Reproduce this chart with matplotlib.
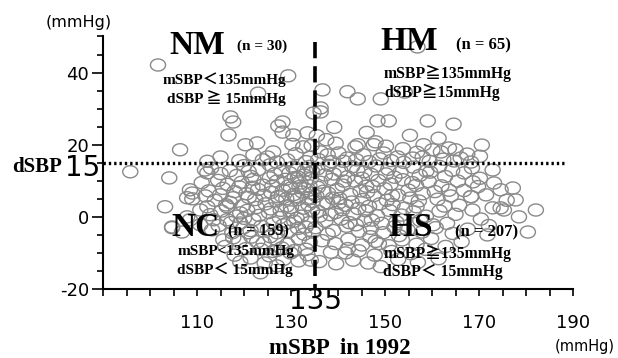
import numpy as np
import matplotlib
matplotlib.use('Agg')
import matplotlib.pyplot as plt
from matplotlib.path import Path

# (mSBP, dSBP), per group
nm_pts = [(101.7,42.1),(129.4,39.1),(123.0,34.3),(117.1,27.7),(117.7,26.3),(128.2,26.3),
          (127.3,25.2),(116.7,22.7),(130.5,22.7),(120.3,20.0),(122.8,20.5),(106.4,18.6),
          (126.2,18.0),(134.8,28.8),(132.6,19.4),(125.0,16.6),(129.2,15.8),(134.1,16.6),
          (122.0,17.2),(115.0,16.6),(128.2,23.5),(133.5,23.3),(131.0,17.5),(119.0,15.6),
          (112.2,15.4),(127.0,15.2),(133.2,15.3),(124.0,15.8),(130.3,20.1),(134.4,19.8)]

hm_pts = [(136.7,35.2),(142.0,34.7),(144.2,32.7),(149.1,32.7),(154.2,34.6),(156.9,47.1),
          (136.3,30.2),(136.3,29.1),(148.4,26.6),(150.8,26.6),(159.1,26.6),(164.6,25.7),
          (144.2,20.0),(143.7,19.4),(148.0,20.8),(147.6,20.0),(158.2,20.0),(160.1,18.6),
          (163.6,19.1),(165.0,18.6),(136.3,18.0),(137.8,17.2),(140.1,17.7),(142.0,16.3),
          (145.4,17.2),(149.7,17.7),(152.7,16.6),(155.9,16.3),(158.0,16.6),(166.1,16.3),
          (168.3,15.2),(161.9,18.0),(135.5,22.5),(137.5,21.4),(139.5,20.4),(141.2,15.4),
          (143.9,15.8),(146.6,15.3),(148.9,16.1),(151.3,15.6),(154.0,15.1),(156.8,17.9),
          (159.5,15.4),(162.4,16.0),(164.7,15.5),(167.5,17.4),(170.2,16.8),(135.8,15.9),
          (138.6,15.3),(139.2,24.8),(150.2,19.6),(153.8,18.9),(146.1,23.4),(155.3,22.6),
          (161.4,21.8),(170.6,19.9)]

nc_pts = [(95.8,12.5),(104.1,10.8),(108.5,7.5),(109.0,6.6),(109.0,5.0),(103.2,2.8),
          (107.9,0.0),(110.7,1.9),(112.2,2.8),(104.7,-2.8),(106.8,-4.2),(112.2,12.2),
          (111.7,13.0),(107.9,5.3),(114.9,6.1),(117.7,5.3),(116.4,2.8),(119.2,1.1),
          (108.5,-0.8),(104.7,-3.0),(110.7,-2.2),(113.5,-0.8),(116.4,-0.8),(119.2,-1.7),
          (119.2,-12.5),(123.5,-15.5),(117.7,-5.8),(120.9,-4.4),(122.8,-6.9),(125.6,-5.5),
          (133.5,-10.5),(129.9,-10.0),(127.0,-9.3),
          (113.0,13.5),(117.0,12.8),(120.0,14.2),(123.0,13.1),(125.5,14.4),(128.0,12.6),
          (130.5,13.8),(133.0,12.9),(118.5,11.5),(121.5,11.2),(126.5,11.9),(131.5,11.0),
          (134.0,14.0),(114.5,10.1),(116.5,9.0),(119.5,9.6),(122.0,10.4),(124.0,8.8),
          (127.0,9.9),(129.5,8.6),(132.0,9.4),(134.2,10.6),(111.0,9.5),(125.5,10.8),
          (130.8,10.9),(112.5,7.2),(115.5,7.9),(118.0,7.0),(120.5,6.4),(123.0,7.6),
          (125.8,6.8),(128.3,7.4),(130.6,6.2),(133.0,7.8),(121.8,8.2),(127.2,5.6),
          (131.8,8.4),(134.4,6.6),(113.8,4.6),(117.0,4.0),(119.8,3.2),(122.4,4.8),
          (124.6,3.6),(126.9,4.4),(129.1,3.0),(131.4,4.8),(133.7,3.4),(121.0,5.4),
          (128.0,5.8),(132.6,2.4),(125.7,2.2),(112.8,0.6),(115.2,1.6),(118.4,0.2),
          (120.7,1.8),(123.2,0.4),(125.3,1.2),(127.6,-0.2),(129.9,1.4),(132.2,0.2),
          (134.5,1.8),(122.0,-0.8),(130.7,-1.2),(126.3,-1.6),(114.6,-2.4),(117.2,-1.6),
          (119.9,-3.0),(123.7,-2.6),(125.1,-3.6),(128.4,-2.2),(131.5,-3.2),(133.9,-1.6),
          (121.4,-3.8),(127.0,-4.4),(132.8,-4.8),(129.6,-4.0),(115.6,-6.4),(119.0,-6.8),
          (121.6,-5.6),(124.2,-7.2),(126.8,-6.2),(129.2,-7.6),(131.7,-6.0),(134.0,-7.0),
          (128.0,-8.6),(123.6,-9.0),(130.6,-9.4),(133.2,-9.0),(118.0,-10.6),(121.4,-11.4),
          (125.4,-10.8),(128.4,-11.8),(131.6,-12.2),(127.0,-13.6),(134.2,-12.0),(124.4,-12.8),
          (129.0,5.0),(130.0,2.6),(131.0,5.6),(132.4,6.9),(133.5,5.1),(134.6,4.2),
          (128.8,10.4),(130.0,8.0),(132.8,11.6),(133.9,8.6),(127.8,1.8),(129.4,-1.6),
          (131.2,-0.4),(133.1,-2.8),(134.7,-4.2),(126.0,8.4),(124.3,6.0),(122.7,2.6),
          (120.0,-0.4),(116.2,3.3),(119.0,8.3),(121.0,12.6),(117.5,-4.4),(113.2,-3.6),
          (111.8,5.8),(115.0,12.0),(116.0,-8.2),(120.4,-8.8),(126.2,-9.6),(131.3,13.0),
          (134.5,12.6),(129.7,12.2)]

hs_pts = [(135.6,13.3),(138.0,14.3),(140.5,12.8),(143.0,13.9),(145.6,12.5),(148.1,14.1),
          (150.7,13.2),(153.3,12.4),(156.0,13.8),(158.8,12.7),(161.5,14.0),(164.3,12.9),
          (168.5,13.6),(172.9,13.0),(137.2,11.6),(142.0,11.1),(147.0,11.8),(152.0,11.0),
          (157.4,11.5),(162.8,11.2),(136.2,9.6),(138.7,10.4),(141.0,8.8),(143.6,9.9),
          (146.0,8.5),(148.6,10.1),(151.2,9.1),(153.8,10.3),(156.6,8.7),(159.3,9.8),
          (162.0,8.6),(165.5,9.9),(168.7,9.7),(173.2,9.4),(139.8,7.6),(144.8,7.2),
          (149.9,7.8),(155.0,7.4),(160.6,7.0),(166.8,7.3),(135.4,5.8),(137.9,6.6),
          (140.3,5.1),(142.6,6.2),(145.3,4.8),(147.6,5.9),(150.4,4.6),(152.8,6.0),
          (155.4,5.2),(158.0,6.4),(161.2,4.9),(164.0,5.8),(168.3,5.6),(171.5,6.1),
          (174.6,7.5),(177.2,8.0),(177.8,4.7),(136.8,3.6),(141.6,3.2),(146.6,2.9),
          (151.6,3.4),(156.7,2.8),(162.6,3.0),(135.8,1.5),(138.4,0.6),(140.9,2.0),
          (143.3,0.8),(145.9,1.7),(148.3,0.3),(150.9,1.8),(153.5,0.5),(156.1,1.4),
          (158.7,0.2),(161.6,1.6),(165.0,0.7),(168.6,1.9),(172.9,2.5),(174.6,2.5),
          (175.3,1.9),(178.5,0.0),(182.1,1.9),(137.3,-1.2),(142.4,-1.6),(147.2,-0.9),
          (152.4,-1.4),(157.5,-1.0),(163.2,-1.8),(170.4,-0.6),(135.2,-3.0),(139.0,-3.8),
          (141.8,-2.6),(144.5,-4.0),(147.0,-3.2),(149.6,-4.4),(152.0,-2.8),(154.8,-3.6),
          (157.9,-4.2),(160.8,-3.0),(164.4,-4.6),(167.6,-3.4),(180.4,-4.2),(171.8,-5.0),
          (136.6,-6.6),(139.4,-7.4),(142.2,-6.2),(145.1,-7.8),(148.0,-6.8),(150.8,-8.0),
          (153.6,-6.4),(156.7,-7.6),(159.8,-6.0),(162.9,-8.2),(166.3,-6.9),(138.5,-9.8),
          (141.6,-10.0),(144.4,-9.4),(147.8,-10.6),(151.4,-9.6),(155.5,-10.2),(158.6,-9.0),
          (136.0,-12.4),(139.6,-13.0),(143.2,-12.0),(146.4,-12.8),(149.1,-13.8),(152.8,-11.8),
          (157.0,-12.6),(161.4,-11.6),(135.7,8.2),(136.9,7.1),(137.7,3.9),(138.9,5.2),
          (139.5,1.2),(140.7,-0.6),(141.3,9.9),(142.9,4.1),(143.8,-2.2),(144.3,2.3),
          (145.1,10.7),(146.2,6.9),(146.9,-5.5),(148.9,3.6),(149.3,-1.8),(150.2,11.9),
          (151.5,5.9),(153.0,-5.2),(154.2,2.4),(155.8,9.5),(157.2,4.4),(159.6,12.4),
          (160.2,-2.2),(163.6,7.4),(165.8,3.2),(166.8,12.2),(169.8,8.4),(136.1,0.2),
          (137.8,-4.8),(139.1,11.9),(140.2,3.9),(142.1,-8.8),(144.1,12.9),(145.6,-1.1),
          (147.4,8.4),(148.7,-7.4),(168.3,5.6),(170.2,10.7),(172.1,-2.4),(175.9,4.6)]

x_ticks = [110, 130, 150, 170, 190]
y_ticks = [-20, 0, 20, 40]
cut_m = 135
cut_d = 15

W, H = 618, 358
fig = plt.figure(figsize=(W / 100, H / 100), dpi=100)
ax = fig.add_axes([103 / W, 1 - 289 / H, (573 - 103) / W, (289 - 36.5) / H])

# slightly flattened open circle marker
t = np.linspace(0, 2 * np.pi, 60)
ell = Path(np.column_stack([np.cos(t), 0.8 * np.sin(t)]), closed=True)

allpts = np.array(nm_pts + hm_pts + nc_pts + hs_pts)
ax.scatter(allpts[:, 0], allpts[:, 1], marker=ell, s=118, facecolors='none',
           edgecolors='#8a8a8a', linewidths=1.0, zorder=2)

ax.plot([90, 188], [cut_d, cut_d], color='black', lw=2.4, ls=(0, (0.7, 0.9)), zorder=3)
ax.plot([cut_m, cut_m], [48.5, -20], color='black', lw=2.6, ls=(0, (4.5, 2.2)), zorder=3)

ax.set_xlim(90, 190)
ax.set_ylim(-20, 50)
for s in ['top', 'right']:
    ax.spines[s].set_visible(False)
for s in ['left', 'bottom']:
    ax.spines[s].set_linewidth(1.5)

ax.set_xticks(np.arange(90, 191, 5), minor=True)
ax.set_xticks(x_ticks)
ax.set_xticklabels([str(v) for v in x_ticks])
ax.tick_params(axis='x', which='both', length=5, width=1.2, direction='out')
ax.tick_params(axis='x', which='major', pad=13, labelsize=13)
ax.set_yticks(np.arange(-20, 51, 5), minor=True)
ax.set_yticks(y_ticks)
ax.set_yticklabels([str(v) for v in y_ticks])
ax.tick_params(axis='y', which='major', length=8, width=1.2, labelsize=13, pad=2)
ax.tick_params(axis='y', which='minor', length=4, width=1.2)

serif = ['Liberation Serif', 'DejaVu Serif', 'Noto Sans CJK JP']


def ftxt(px, py, s, size, ha='center', fam=serif, weight='bold'):
    fig.text(px / W, 1 - py / H, s, fontsize=size, ha=ha, va='center',
             family=fam, fontweight=weight, zorder=5)


sans = ['DejaVu Sans']
ftxt(79, 22, '(mmHg)', 11.5, fam=sans, weight='normal')
ftxt(585, 346, '(mmHg)', 10.5, fam=sans, weight='normal')
ftxt(340, 349, 'mSBP  in 1992', 16.5)
ftxt(315, 301, '135', 20, fam=sans, weight='normal')
ftxt(37, 167, 'dSBP', 15)
ftxt(100, 168, '15', 20, ha='right', fam=sans, weight='normal')

ftxt(197, 46, 'NM', 24)
ftxt(262, 46, '(n = 30)', 11)
ftxt(224, 80, 'mSBP\uff1c135mmHg', 11)
ftxt(226, 98, 'dSBP \u2267 15mmHg', 11)

ftxt(409, 42, 'HM', 24)
ftxt(483, 45, '(n = 65)', 12)
ftxt(448, 73, 'mSBP\u2267135mmHg', 11.3)
ftxt(442, 92, 'dSBP\u226715mmHg', 11.3)

ftxt(195, 228, 'NC', 24)
ftxt(258, 231, '(n = 159)', 11.5)
ftxt(236, 251, 'mSBP<135mmHg', 11)
ftxt(235, 270, 'dSBP\uff1c 15mmHg', 11)

ftxt(411, 227, 'HS', 24)
ftxt(487, 232, '(n = 207)', 12)
ftxt(448, 253, 'mSBP\u2267135mmHg', 11.3)
ftxt(443, 272, 'dSBP\uff1c 15mmHg', 11.3)

fig.savefig('out.png', dpi=100)
